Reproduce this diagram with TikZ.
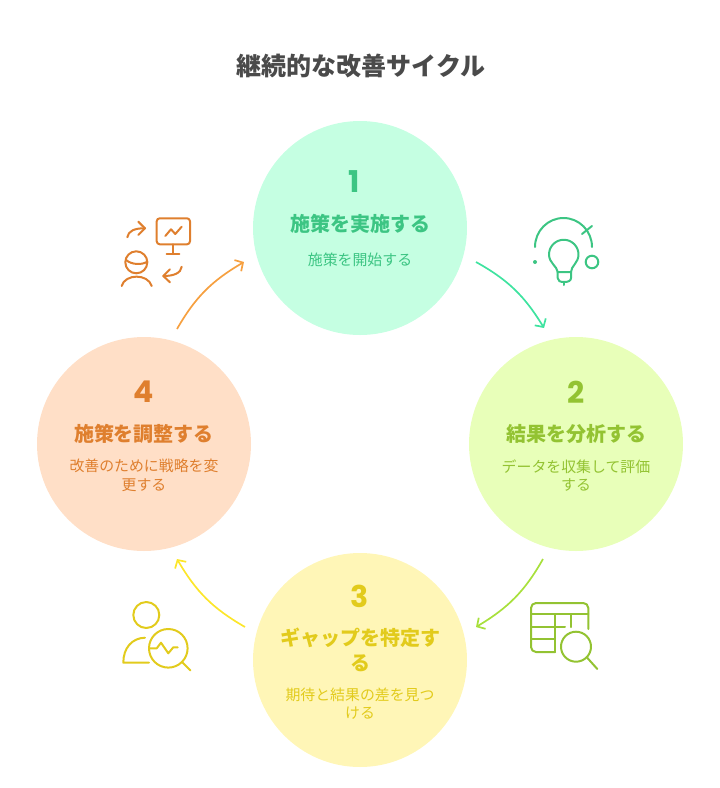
\documentclass[tikz,border=0pt]{standalone}
\usepackage{fontspec}
\setmainfont{Noto Sans CJK JP}
\newfontfamily\numfont{Poppins}
\usetikzlibrary{arrows.meta, bending}
\definecolor{fillone}{HTML}{C5FFE2}
\definecolor{filltwo}{HTML}{E8FFB9}
\definecolor{fillthree}{HTML}{FFF6B7}
\definecolor{fillfour}{HTML}{FFDFC7}
\definecolor{textone}{HTML}{3CC583}
\definecolor{texttwo}{HTML}{93C332}
\definecolor{textthree}{HTML}{E2CB1C}
\definecolor{textfour}{HTML}{DF7F2E}
\definecolor{arrowone}{HTML}{3FE3A0}
\definecolor{arrowtwo}{HTML}{A8E03C}
\definecolor{arrowthree}{HTML}{FCE62B}
\definecolor{arrowfour}{HTML}{F6A040}
\definecolor{titlegray}{HTML}{4A4A4A}
\tikzset{
  stage/.style={circle, minimum size=214pt, inner sep=0pt},
  numlabel/.style={font=\numfont\bfseries\fontsize{30}{30}\selectfont},
  headlabel/.style={font=\bfseries\fontsize{20}{25}\selectfont, align=center},
  sublabel/.style={font=\fontsize{14.9}{18.6}\selectfont, align=center},
  flow/.style={line width=1.7pt, -{Straight Barb[length=6pt,width=13pt,bend]}},
  icon/.style={line width=2pt, line cap=round, line join=round},
}
\begin{document}
\begin{tikzpicture}[x=1pt,y=-1pt]
            \useasboundingbox (0,0) rectangle (720,788);
            \node[font=\bfseries\fontsize{25}{30}\selectfont, text=titlegray] at (361, 66) (title) {継続的な改善サイクル};

            \node[stage, fill=fillone]   at (360, 228) (one) {};
            \node[stage, fill=filltwo]   at (576, 444) (two) {};
            \node[stage, fill=fillthree] at (360, 660) (three) {};
            \node[stage, fill=fillfour]  at (144, 444) (four) {};

            \node[numlabel, text=textone] at (354, 182) (onenum) {1};
            \node[headlabel, text=textone] at (360, 224) (onehead) {施策を実施する};
            \node[sublabel, text=textone] at (360, 259.5) (onesub) {施策を開始する};

            \node[numlabel, text=texttwo] at (576, 392) (twonum) {2};
            \node[headlabel, text=texttwo] at (576, 434) (twohead) {結果を分析する};
            \node[sublabel, text=texttwo] at (576, 475.5) (twosub) {データを収集して評価\\する};

            \node[numlabel, text=textthree] at (360, 596) (threenum) {3};
            \node[headlabel, text=textthree] at (360, 650) (threehead) {ギャップを特定す\\る};
            \node[sublabel, text=textthree] at (360, 703.5) (threesub) {期待と結果の差を見つ\\ける};

            \node[numlabel, text=textfour] at (144, 392) (fournum) {4};
            \node[headlabel, text=textfour] at (144, 434) (fourhead) {施策を調整する};
            \node[sublabel, text=textfour] at (144, 475.5) (foursub) {改善のために戦略を変\\更する};

            % arrow ends
            \coordinate (onea) at (476, 262);
            \coordinate (oneb) at (544, 328);
            \coordinate (twoa) at (543, 559);
            \coordinate (twob) at (476, 627);
            \coordinate (threea) at (245, 627);
            \coordinate (threeb) at (177, 559);
            \coordinate (foura) at (177, 329);
            \coordinate (fourb) at (244, 262);

            \draw[flow, arrowone] (onea) to[bend left=15] (oneb);
            \draw[flow, arrowtwo] (twoa) to[bend left=15] (twob);
            \draw[flow, arrowthree] (threea) to[bend left=15] (threeb);
            \draw[flow, arrowfour] (foura) to[bend left=15] (fourb);

            % bulb icon
            \begin{scope}[icon, textone]
                \draw (535, 247) arc[start angle=180, end angle=360, x radius=28.5, y radius=29];
                \draw (582, 234) -- (592, 226);
                \fill (535, 262) circle (2);
                \draw (592, 262) circle (6.3);
                \draw (557.7, 272) .. controls (557, 266) and (549, 263) .. (549, 254.5)
                    arc[start angle=180, end angle=360, radius=14.75]
                    .. controls (578.5, 263) and (571, 266) .. (571, 272) -- cycle;
                \draw (557.7, 272) -- (557.7, 278) .. controls (557.7, 281) and (560, 282) .. (564, 282)
                    .. controls (568, 282) and (571, 281) .. (571, 278) -- (571, 272);
                \draw (564, 282) -- (564, 285);
            \end{scope}

            % table icon
            \begin{scope}[icon, texttwo]
                \draw[rounded corners=5] (588.3, 629) -- (588.3, 603) -- (531, 603) -- (531, 652) -- (555, 652);
                \draw (531, 614) -- (588.3, 614);
                \draw (531, 626.7) -- (565, 626.7);
                \draw (531, 639.3) -- (555, 639.3);
                \draw (555, 614) -- (555, 652);
                \draw (571, 614) -- (571, 627);
                \draw (576, 646.7) circle (15);
                \draw (587, 657.5) -- (597.3, 669);
            \end{scope}

            % person icon
            \begin{scope}[icon, textthree]
                \draw (146.3, 615) circle (13);
                \draw (145, 637.7) .. controls (132, 638) and (123.3, 648) .. (123.3, 662.7) -- (149, 662.7);
                \draw (168.3, 648.3) circle (19.3);
                \draw (182.3, 662.3) -- (190.3, 670.3);
                \draw (149, 648.3) -- (156.7, 648.3) -- (161, 642.7) -- (168.3, 653.3) -- (173.3, 647.3) -- (177.7, 647.3);
            \end{scope}

            % review icon
            \begin{scope}[icon, textfour]
                \draw[rounded corners=3] (156.7, 218.3) rectangle (190, 244.3);
                \draw (173, 244.3) -- (173, 254);
                \draw (166.7, 254) -- (179.3, 254);
                \draw (165.3, 236) -- (171, 229.3) -- (175.3, 234) -- (181.7, 226.7);
                \draw (127.3, 237.3) .. controls (128, 231) and (135, 228) .. (145, 228.3);
                \draw (138.3, 221.7) -- (145, 228.3) -- (138.3, 235);
                \draw (181.7, 266.7) .. controls (181, 273) and (174, 276) .. (163.3, 276);
                \draw (170, 269.3) -- (163.3, 276) -- (170, 282.3);
                \draw (136.3, 262.3) circle (11);
                \draw (126, 260) .. controls (132, 265) and (142, 265) .. (147.3, 261.7);
                \draw (121.7, 286) .. controls (125, 273.5) and (148, 273.5) .. (151.7, 286);
            \end{scope}
        \end{tikzpicture}
\end{document}
